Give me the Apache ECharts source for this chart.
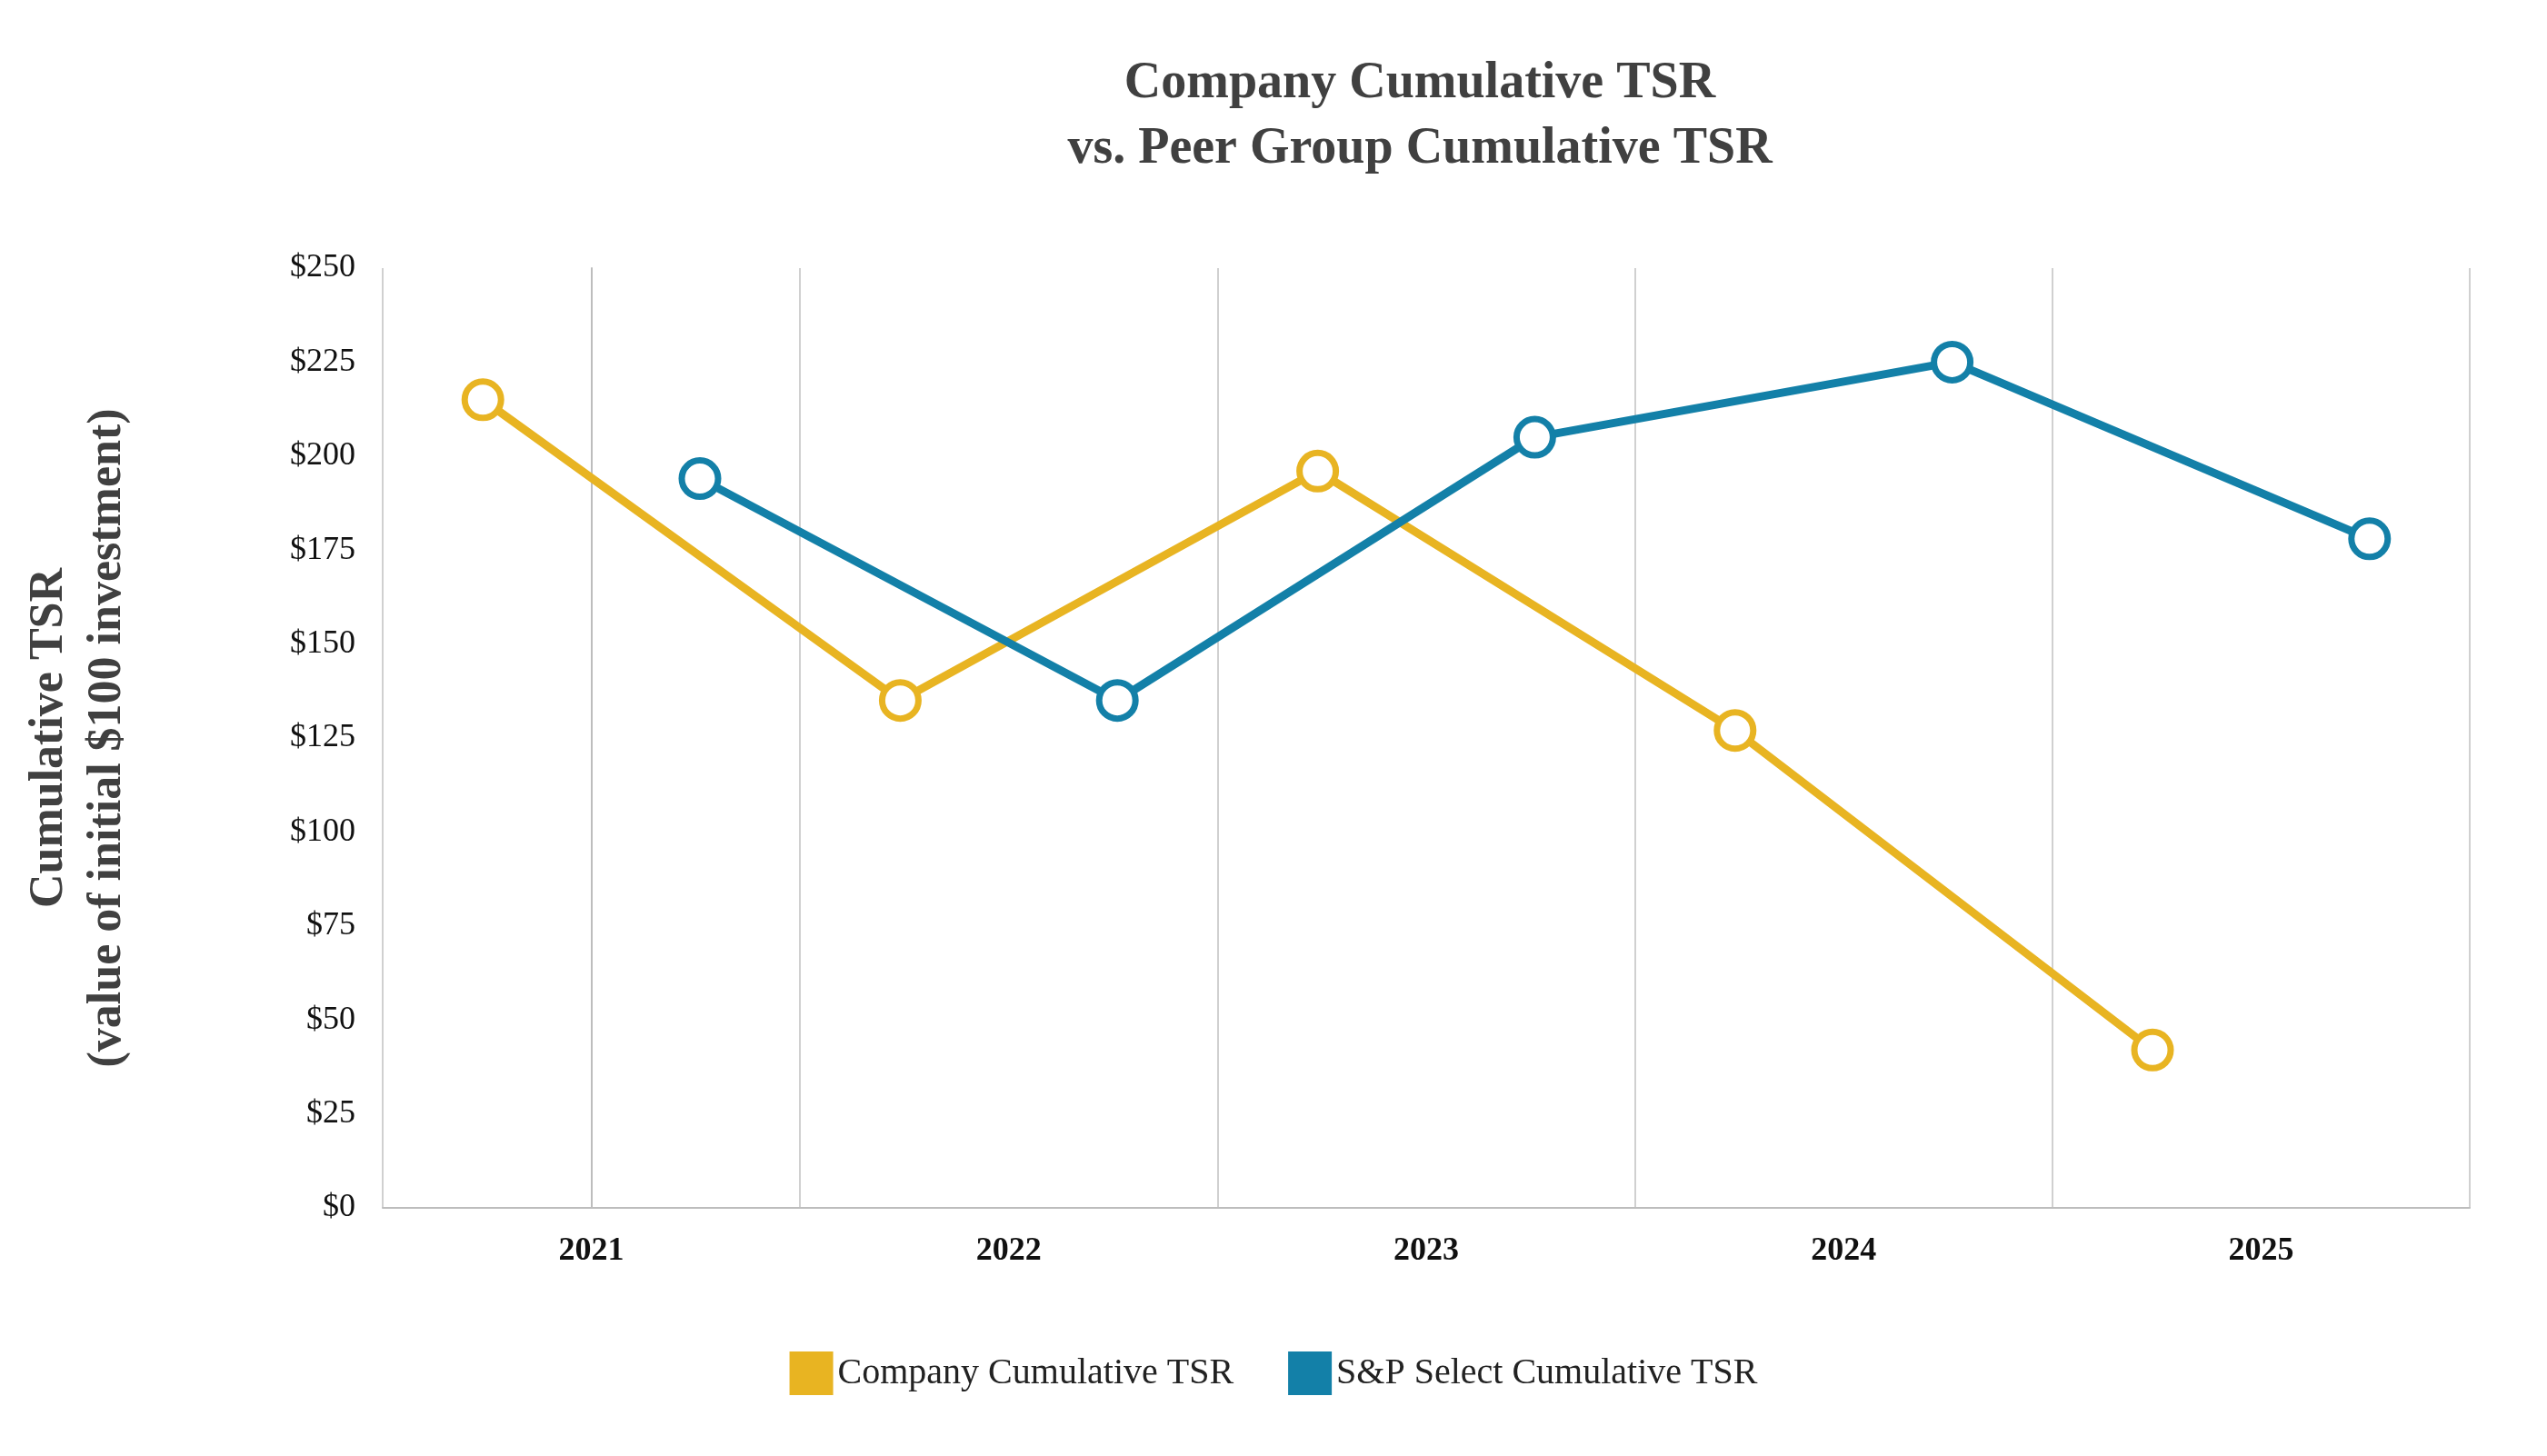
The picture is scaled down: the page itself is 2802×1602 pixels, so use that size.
<!DOCTYPE html>
<html>
<head>
<meta charset="utf-8">
<script src="https://cdn.jsdelivr.net/npm/echarts@6/dist/echarts.min.js"></script>
<style>html,body{margin:0;background:#fff}#c{width:2802px;height:1602px}</style>
</head>
<body>
<div id="c"></div>
<script>
const years = ["2021", "2022", "2023", "2024", "2025"];
const companyTsr = [215, 135, 196, 127, 42];
const peerTsr = [194, 135, 205, 225, 178];
const yTicks = [0, 25, 50, 75, 100, 125, 150, 175, 200, 225, 250];

// each year holds two points: company left of center, peer right of center
const offset = 0.26;
const pts = (vals, d) => vals.map((v, i) => [i + d, v]);

const font = "Liberation Serif, Times New Roman, serif";
const chart = echarts.init(document.getElementById("c"));
const lineSeries = (name, color, data) => ({
  name, type: "line", xAxisIndex: 1, data,
  lineStyle: { color, width: 9 },
  itemStyle: { color: "#fff", borderColor: color, borderWidth: 7 },
  symbol: "circle", symbolSize: 40, showAllSymbol: true,
  emphasis: { disabled: true },
});
chart.setOption({
  animation: false,
  textStyle: { fontFamily: font },
  title: {
    text: "Company Cumulative TSR\nvs. Peer Group Cumulative TSR",
    left: 1557, top: 52, textAlign: "center",
    textStyle: { fontFamily: font, fontSize: 56, fontWeight: "bold", color: "#404040", lineHeight: 72 },
  },
  grid: { left: 421, right: 85, top: 295, bottom: 273 },
  legend: {
    bottom: 62, left: "center", icon: "rect", itemWidth: 48, itemHeight: 48, itemGap: 60,
    textStyle: { fontFamily: font, fontSize: 40, color: "#222" },
    data: [
      { name: "Company Cumulative TSR", itemStyle: { color: "#E8B422", borderWidth: 0 } },
      { name: "S&P Select Cumulative TSR", itemStyle: { color: "#1380A8", borderWidth: 0 } },
    ],
  },
  xAxis: [
    {
      type: "category", data: years, boundaryGap: true,
      axisLine: { lineStyle: { color: "#bdbdbd", width: 2 } },
      axisTick: { show: false },
      splitLine: { show: true, lineStyle: { color: "#d0d0d0", width: 2 } },
      axisLabel: { fontFamily: font, fontSize: 36, fontWeight: "bold", color: "#111", margin: 30 },
    },
    { type: "value", min: -0.5, max: 4.5, show: false },
  ],
  yAxis: {
    type: "value", min: 0, max: 250, interval: 25,
    name: "Cumulative TSR\n(value of initial $100 investment)",
    nameLocation: "middle", nameGap: 270, nameRotate: 90,
    nameTextStyle: { fontFamily: font, fontSize: 52, fontWeight: "bold", color: "#404040", lineHeight: 64 },
    axisLine: { show: true, lineStyle: { color: "#bdbdbd", width: 2 } },
    axisTick: { show: false },
    splitLine: { show: false },
    axisLabel: {
      fontFamily: font, fontSize: 36, color: "#111", margin: 30,
      formatter: (v) => (yTicks.includes(v) ? "$" + v : ""),
    },
  },
  series: [
    lineSeries("Company Cumulative TSR", "#E8B422", pts(companyTsr, -offset)),
    lineSeries("S&P Select Cumulative TSR", "#1380A8", pts(peerTsr, offset)),
  ],
});
</script>
</body>
</html>
